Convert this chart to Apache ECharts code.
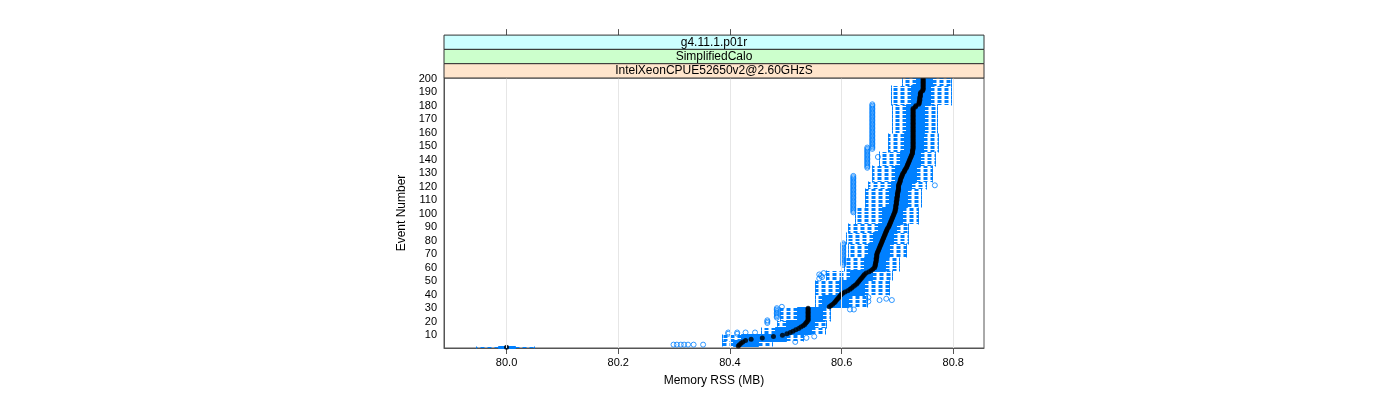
<!DOCTYPE html>
<html>
<head>
<meta charset="utf-8">
<script src="https://cdn.jsdelivr.net/npm/echarts@6.0.0/dist/echarts.min.js"></script>
<style>
  html, body { margin: 0; padding: 0; background: #fff; }
  #chart { width: 1400px; height: 400px; }
</style>
</head>
<body>
<div id="chart"></div>
<script>
// strip labels, outermost first
var strips = ["g4.11.1.p01r", "SimplifiedCalo", "IntelXeonCPUE52650v2@2.60GHzS"];
var stripColors = ["#ccffff", "#ccffcc", "#ffe5cc"];
var xTicks = [80.0, 80.2, 80.4, 80.6, 80.8];

// per event (1..200), memory RSS in MB
var whiskerLo = [
  79.945, 80.386, 80.386, 80.386, 80.386, 80.386, 80.386, 80.386, 80.386, 80.386,
  80.455, 80.455, 80.455, 80.455, 80.455, 80.485, 80.485, 80.485, 80.485, 80.485,
  80.490, 80.490, 80.490, 80.490, 80.490, 80.490, 80.490, 80.490, 80.490, 80.490,
  80.553, 80.553, 80.553, 80.553, 80.553, 80.553, 80.553, 80.553, 80.553, 80.553,
  80.553, 80.553, 80.553, 80.553, 80.553, 80.553, 80.553, 80.553, 80.553, 80.553,
  80.572, 80.572, 80.572, 80.572, 80.572, 80.572, 80.572, 80.605, 80.605, 80.605,
  80.605, 80.605, 80.605, 80.605, 80.605, 80.605, 80.605, 80.612, 80.612, 80.612,
  80.612, 80.612, 80.612, 80.612, 80.612, 80.612, 80.612, 80.607, 80.607, 80.607,
  80.607, 80.607, 80.607, 80.607, 80.607, 80.612, 80.612, 80.612, 80.612, 80.612,
  80.612, 80.612, 80.624, 80.624, 80.624, 80.624, 80.624, 80.624, 80.624, 80.624,
  80.624, 80.624, 80.624, 80.624, 80.642, 80.642, 80.642, 80.642, 80.642, 80.642,
  80.642, 80.642, 80.642, 80.642, 80.642, 80.642, 80.642, 80.642, 80.648, 80.648,
  80.648, 80.648, 80.648, 80.655, 80.655, 80.655, 80.655, 80.655, 80.655, 80.655,
  80.655, 80.655, 80.655, 80.655, 80.655, 80.667, 80.667, 80.667, 80.667, 80.667,
  80.667, 80.667, 80.667, 80.667, 80.667, 80.683, 80.683, 80.683, 80.683, 80.683,
  80.683, 80.683, 80.683, 80.683, 80.683, 80.683, 80.683, 80.683, 80.683, 80.690,
  80.690, 80.690, 80.690, 80.690, 80.690, 80.690, 80.690, 80.690, 80.690, 80.690,
  80.690, 80.690, 80.690, 80.690, 80.690, 80.690, 80.690, 80.690, 80.690, 80.690,
  80.688, 80.688, 80.688, 80.688, 80.688, 80.688, 80.688, 80.688, 80.688, 80.688,
  80.688, 80.688, 80.688, 80.688, 80.708, 80.708, 80.708, 80.708, 80.708, 80.708
];
var boxLo = [
  79.984, 80.405, 80.405, 80.405, 80.405, 80.420, 80.420, 80.420, 80.420, 80.420,
  80.480, 80.480, 80.480, 80.480, 80.480, 80.500, 80.500, 80.500, 80.500, 80.500,
  80.520, 80.520, 80.520, 80.520, 80.520, 80.520, 80.520, 80.520, 80.520, 80.520,
  80.565, 80.565, 80.565, 80.565, 80.565, 80.565, 80.565, 80.565, 80.565, 80.595,
  80.595, 80.595, 80.595, 80.595, 80.595, 80.595, 80.595, 80.595, 80.595, 80.595,
  80.615, 80.615, 80.615, 80.615, 80.615, 80.615, 80.615, 80.640, 80.640, 80.640,
  80.640, 80.640, 80.640, 80.640, 80.640, 80.640, 80.640, 80.648, 80.648, 80.648,
  80.648, 80.648, 80.648, 80.648, 80.648, 80.648, 80.648, 80.657, 80.657, 80.657,
  80.657, 80.657, 80.657, 80.657, 80.657, 80.665, 80.665, 80.665, 80.665, 80.665,
  80.665, 80.665, 80.672, 80.672, 80.672, 80.672, 80.672, 80.672, 80.672, 80.672,
  80.672, 80.672, 80.672, 80.672, 80.684, 80.684, 80.684, 80.684, 80.684, 80.684,
  80.684, 80.684, 80.684, 80.684, 80.684, 80.684, 80.684, 80.684, 80.688, 80.688,
  80.688, 80.688, 80.688, 80.695, 80.695, 80.695, 80.695, 80.695, 80.695, 80.695,
  80.695, 80.695, 80.695, 80.695, 80.695, 80.705, 80.705, 80.705, 80.705, 80.705,
  80.705, 80.705, 80.705, 80.705, 80.705, 80.712, 80.712, 80.712, 80.712, 80.712,
  80.712, 80.712, 80.712, 80.712, 80.712, 80.712, 80.712, 80.712, 80.712, 80.715,
  80.715, 80.715, 80.715, 80.715, 80.715, 80.715, 80.715, 80.715, 80.715, 80.715,
  80.715, 80.715, 80.715, 80.715, 80.715, 80.715, 80.715, 80.715, 80.715, 80.715,
  80.725, 80.725, 80.725, 80.725, 80.725, 80.725, 80.725, 80.725, 80.725, 80.725,
  80.725, 80.725, 80.725, 80.725, 80.733, 80.733, 80.733, 80.733, 80.733, 80.733
];
var medians = [
  80.000, 80.415, 80.417, 80.420, 80.423, 80.428, 80.438, 80.458, 80.478, 80.494,
  80.502, 80.508, 80.513, 80.518, 80.523, 80.527, 80.531, 80.534, 80.536, 80.538,
  80.540, 80.540, 80.540, 80.540, 80.540, 80.540, 80.540, 80.540, 80.540, 80.540,
  80.578, 80.581, 80.584, 80.587, 80.589, 80.591, 80.593, 80.595, 80.597, 80.599,
  80.602, 80.606, 80.611, 80.615, 80.618, 80.621, 80.624, 80.627, 80.629, 80.631,
  80.633, 80.635, 80.637, 80.639, 80.641, 80.644, 80.649, 80.653, 80.656, 80.659,
  80.660, 80.660, 80.661, 80.661, 80.662, 80.662, 80.662, 80.663, 80.663, 80.663,
  80.664, 80.665, 80.666, 80.667, 80.668, 80.669, 80.670, 80.671, 80.672, 80.673,
  80.674, 80.675, 80.676, 80.677, 80.678, 80.679, 80.680, 80.681, 80.682, 80.684,
  80.685, 80.686, 80.687, 80.688, 80.689, 80.690, 80.691, 80.692, 80.693, 80.694,
  80.695, 80.696, 80.696, 80.697, 80.697, 80.697, 80.698, 80.698, 80.698, 80.699,
  80.699, 80.699, 80.700, 80.700, 80.700, 80.701, 80.701, 80.702, 80.702, 80.702,
  80.702, 80.703, 80.704, 80.705, 80.705, 80.706, 80.707, 80.708, 80.709, 80.710,
  80.712, 80.713, 80.714, 80.716, 80.717, 80.718, 80.719, 80.720, 80.721, 80.722,
  80.723, 80.724, 80.725, 80.726, 80.727, 80.727, 80.727, 80.728, 80.728, 80.728,
  80.728, 80.728, 80.728, 80.728, 80.728, 80.728, 80.728, 80.728, 80.728, 80.728,
  80.728, 80.728, 80.728, 80.728, 80.728, 80.728, 80.728, 80.728, 80.728, 80.728,
  80.728, 80.728, 80.728, 80.728, 80.728, 80.728, 80.728, 80.728, 80.732, 80.733,
  80.738, 80.739, 80.739, 80.740, 80.740, 80.740, 80.741, 80.741, 80.741, 80.742,
  80.745, 80.746, 80.746, 80.746, 80.746, 80.746, 80.746, 80.746, 80.746, 80.746
];
var boxHi = [
  80.016, 80.450, 80.450, 80.450, 80.450, 80.500, 80.500, 80.500, 80.500, 80.500,
  80.545, 80.545, 80.545, 80.545, 80.545, 80.550, 80.550, 80.550, 80.550, 80.550,
  80.565, 80.565, 80.565, 80.565, 80.565, 80.565, 80.565, 80.565, 80.565, 80.565,
  80.612, 80.612, 80.612, 80.612, 80.612, 80.612, 80.612, 80.612, 80.612, 80.640,
  80.640, 80.640, 80.640, 80.640, 80.640, 80.640, 80.640, 80.640, 80.640, 80.640,
  80.655, 80.655, 80.655, 80.655, 80.655, 80.655, 80.655, 80.677, 80.677, 80.677,
  80.677, 80.677, 80.677, 80.677, 80.677, 80.677, 80.677, 80.685, 80.685, 80.685,
  80.685, 80.685, 80.685, 80.685, 80.685, 80.685, 80.685, 80.692, 80.692, 80.692,
  80.692, 80.692, 80.692, 80.692, 80.692, 80.697, 80.697, 80.697, 80.697, 80.697,
  80.697, 80.697, 80.708, 80.708, 80.708, 80.708, 80.708, 80.708, 80.708, 80.708,
  80.708, 80.708, 80.708, 80.708, 80.718, 80.718, 80.718, 80.718, 80.718, 80.718,
  80.718, 80.718, 80.718, 80.718, 80.718, 80.718, 80.718, 80.718, 80.725, 80.725,
  80.725, 80.725, 80.725, 80.733, 80.733, 80.733, 80.733, 80.733, 80.733, 80.733,
  80.733, 80.733, 80.733, 80.733, 80.733, 80.740, 80.740, 80.740, 80.740, 80.740,
  80.740, 80.740, 80.740, 80.740, 80.740, 80.745, 80.745, 80.745, 80.745, 80.745,
  80.745, 80.745, 80.745, 80.745, 80.745, 80.745, 80.745, 80.745, 80.745, 80.748,
  80.748, 80.748, 80.748, 80.748, 80.748, 80.748, 80.748, 80.748, 80.748, 80.748,
  80.748, 80.748, 80.748, 80.748, 80.748, 80.748, 80.748, 80.748, 80.748, 80.748,
  80.758, 80.758, 80.758, 80.758, 80.758, 80.758, 80.758, 80.758, 80.758, 80.758,
  80.758, 80.758, 80.758, 80.758, 80.762, 80.762, 80.762, 80.762, 80.762, 80.762
];
var whiskerHi = [
  80.050, 80.475, 80.475, 80.475, 80.475, 80.530, 80.530, 80.530, 80.530, 80.530,
  80.570, 80.570, 80.570, 80.570, 80.570, 80.572, 80.572, 80.572, 80.572, 80.572,
  80.580, 80.580, 80.580, 80.580, 80.580, 80.580, 80.580, 80.580, 80.580, 80.580,
  80.645, 80.645, 80.645, 80.645, 80.645, 80.645, 80.645, 80.645, 80.645, 80.685,
  80.685, 80.685, 80.685, 80.685, 80.685, 80.685, 80.685, 80.685, 80.685, 80.685,
  80.690, 80.690, 80.690, 80.690, 80.690, 80.690, 80.690, 80.703, 80.703, 80.703,
  80.703, 80.703, 80.703, 80.703, 80.703, 80.703, 80.703, 80.715, 80.715, 80.715,
  80.715, 80.715, 80.715, 80.715, 80.715, 80.715, 80.715, 80.719, 80.719, 80.719,
  80.719, 80.719, 80.719, 80.719, 80.719, 80.719, 80.719, 80.719, 80.719, 80.719,
  80.719, 80.719, 80.737, 80.737, 80.737, 80.737, 80.737, 80.737, 80.737, 80.737,
  80.737, 80.737, 80.737, 80.737, 80.742, 80.742, 80.742, 80.742, 80.742, 80.742,
  80.742, 80.742, 80.742, 80.742, 80.742, 80.742, 80.742, 80.742, 80.751, 80.751,
  80.751, 80.751, 80.751, 80.762, 80.762, 80.762, 80.762, 80.762, 80.762, 80.762,
  80.762, 80.762, 80.762, 80.762, 80.762, 80.767, 80.767, 80.767, 80.767, 80.767,
  80.767, 80.767, 80.767, 80.767, 80.767, 80.773, 80.773, 80.773, 80.773, 80.773,
  80.773, 80.773, 80.773, 80.773, 80.773, 80.773, 80.773, 80.773, 80.773, 80.771,
  80.771, 80.771, 80.771, 80.771, 80.771, 80.771, 80.771, 80.771, 80.771, 80.771,
  80.771, 80.771, 80.771, 80.771, 80.771, 80.771, 80.771, 80.771, 80.771, 80.771,
  80.796, 80.796, 80.796, 80.796, 80.796, 80.796, 80.796, 80.796, 80.796, 80.796,
  80.796, 80.796, 80.796, 80.796, 80.796, 80.796, 80.796, 80.796, 80.796, 80.796
];
// outliers: [memory MB, event number]
var outliers = [
  [80.299, 3], [80.305, 3], [80.312, 3], [80.318, 3], [80.325, 3], [80.335, 3], [80.352, 3],
  [80.517, 5], [80.537, 8], [80.551, 9],
  [80.397, 11], [80.413, 11], [80.397, 12], [80.413, 12], [80.428, 12], [80.445, 12],
  [80.467, 19], [80.467, 20], [80.467, 21],
  [80.484, 23], [80.484, 24], [80.484, 25], [80.484, 26], [80.484, 27], [80.484, 28],
  [80.484, 29], [80.484, 30], [80.493, 31], [80.615, 29], [80.622, 29],
  [80.648, 35], [80.668, 36], [80.690, 36], [80.680, 37], [80.648, 38],
  [80.560, 52], [80.565, 53], [80.563, 54], [80.560, 55], [80.568, 56],
  [80.603, 62], [80.603, 63], [80.603, 64], [80.603, 65], [80.603, 66], [80.603, 67],
  [80.603, 68], [80.603, 69], [80.603, 70], [80.603, 71], [80.603, 72], [80.603, 73],
  [80.603, 74], [80.603, 75], [80.603, 76], [80.603, 77], [80.603, 78],
  [80.621, 101], [80.621, 102], [80.621, 103], [80.621, 104], [80.621, 105], [80.621, 106],
  [80.621, 107], [80.621, 108], [80.621, 109], [80.621, 110], [80.621, 111], [80.621, 112],
  [80.621, 113], [80.621, 114], [80.621, 115], [80.621, 116], [80.621, 117], [80.621, 118],
  [80.621, 119], [80.621, 120], [80.621, 121], [80.621, 122], [80.621, 123], [80.621, 124],
  [80.621, 125], [80.621, 126], [80.621, 127], [80.621, 128],
  [80.767, 121],
  [80.646, 134], [80.646, 135], [80.646, 136], [80.646, 137], [80.646, 138], [80.646, 139],
  [80.646, 140], [80.646, 141], [80.646, 142], [80.646, 143], [80.646, 144], [80.646, 145],
  [80.646, 146], [80.646, 147], [80.646, 148], [80.646, 149], [80.665, 142],
  [80.655, 148], [80.655, 149], [80.655, 150], [80.655, 151], [80.655, 152], [80.655, 153],
  [80.655, 154], [80.655, 155], [80.655, 156], [80.655, 157], [80.655, 158], [80.655, 159],
  [80.655, 160], [80.655, 161], [80.655, 162], [80.655, 163], [80.655, 164], [80.655, 165],
  [80.655, 166], [80.655, 167], [80.655, 168], [80.655, 169], [80.655, 170], [80.655, 171],
  [80.655, 172], [80.655, 173], [80.655, 174], [80.655, 175], [80.655, 176], [80.655, 177],
  [80.655, 178], [80.655, 179], [80.655, 180], [80.655, 181]
];

var events = [];
for (var i = 1; i <= 200; i++) events.push(String(i));

var boxData = [];
var medianData = [];
for (var j = 0; j < events.length; j++) {
  boxData.push([j, whiskerLo[j], boxLo[j], medians[j], boxHi[j], whiskerHi[j]]);
  medianData.push([medians[j], j]);
}
var outlierData = outliers.map(function (o) { return [o[0], o[1] - 1]; });

var BLUE = "#0080ff";
var FONT = "Liberation Sans";
var gridLeft = 444, gridTop = 78, gridW = 540, gridH = 270;
var stripH = 14.3;

// one horizontal box-and-whisker per event, snapped to device pixels
function renderBox(params, api) {
  var cat = api.value(0);
  var p = api.coord([api.value(1), cat]);
  var y = Math.floor(p[1]) + 0.5;
  var xLo = Math.round(p[0]) + 0.5;
  var xQ1 = Math.round(api.coord([api.value(2), cat])[0]) + 0.5;
  var xQ3 = Math.round(api.coord([api.value(4), cat])[0]) + 0.5;
  var xHi = Math.round(api.coord([api.value(5), cat])[0]) + 0.5;
  var dashed = { stroke: BLUE, lineWidth: 1, lineDash: [4, 3], fill: null };
  return {
    type: "group",
    children: [
      { type: "line", shape: { x1: xQ1, y1: y, x2: xLo, y2: y }, style: dashed },
      { type: "line", shape: { x1: xQ3, y1: y, x2: xHi, y2: y }, style: dashed },
      { type: "line", shape: { x1: xLo, y1: y - 1, x2: xLo, y2: y + 1 }, style: { stroke: BLUE, lineWidth: 1 } },
      { type: "line", shape: { x1: xHi, y1: y - 1, x2: xHi, y2: y + 1 }, style: { stroke: BLUE, lineWidth: 1 } },
      {
        type: "rect",
        shape: { x: xQ1, y: y - 1, width: xQ3 - xQ1, height: 2 },
        style: { stroke: BLUE, fill: BLUE, lineWidth: 1 }
      }
    ]
  };
}

var stripGraphics = [];
strips.forEach(function (s, idx) {
  var top = gridTop - stripH * (strips.length - idx);
  stripGraphics.push({
    type: "rect",
    shape: { x: gridLeft, y: top, width: gridW, height: stripH },
    style: { fill: stripColors[idx], stroke: "#333", lineWidth: 1 },
    z: 10
  });
  stripGraphics.push({
    type: "text",
    x: gridLeft + gridW / 2,
    y: top + stripH / 2,
    style: { text: s, font: "12px " + FONT, fill: "#000", align: "center", verticalAlign: "middle" },
    z: 11
  });
});

var myChart = echarts.init(document.getElementById("chart"));
var option = {
  animation: false,
  backgroundColor: "#fff",
  grid: {
    left: gridLeft, top: gridTop, width: gridW, height: gridH,
    show: true, borderColor: "#555", borderWidth: 1, backgroundColor: "transparent"
  },
  xAxis: [
    {
      type: "value",
      min: 79.888,
      max: 80.855,
      name: "Memory RSS (MB)",
      nameLocation: "middle",
      nameGap: 27,
      nameTextStyle: { fontFamily: FONT, fontSize: 12, color: "#000" },
      axisLine: { show: true, lineStyle: { color: "#555" } },
      axisTick: { show: true, inside: false, length: 6, customValues: xTicks, lineStyle: { color: "#555" } },
      axisLabel: {
        customValues: xTicks, margin: 9, fontFamily: FONT, fontSize: 11, color: "#000",
        formatter: function (v) { return v.toFixed(1); }
      },
      splitLine: { show: false }
    },
    {
      type: "value",
      position: "top",
      offset: stripH * 3,
      min: 79.888,
      max: 80.855,
      axisLine: { show: false },
      axisTick: { show: true, length: 6, customValues: xTicks, lineStyle: { color: "#555" } },
      axisLabel: { show: false },
      splitLine: { show: false }
    }
  ],
  yAxis: {
    type: "category",
    data: events,
    boundaryGap: true,
    name: "Event Number",
    nameLocation: "middle",
    nameGap: 36,
    nameTextStyle: { fontFamily: FONT, fontSize: 12, color: "#000" },
    axisLine: { show: true, lineStyle: { color: "#555" } },
    axisTick: { show: false },
    axisLabel: {
      margin: 7, fontFamily: FONT, fontSize: 11, color: "#000",
      interval: function (index) { return (index + 1) % 10 === 0; }
    },
    splitLine: { show: false }
  },
  graphic: stripGraphics,
  series: [
    {
      type: "scatter",
      data: [],
      z: 1,
      silent: true,
      markLine: {
        silent: true,
        symbol: "none",
        label: { show: false },
        lineStyle: { color: "#e6e6e6", type: "solid", width: 1 },
        data: xTicks.map(function (t) { return { xAxis: t }; })
      }
    },
    {
      type: "custom",
      renderItem: renderBox,
      data: boxData,
      encode: { x: [1, 2, 3, 4, 5], y: 0 },
      z: 2
    },
    {
      type: "scatter",
      data: outlierData,
      symbol: "circle",
      symbolSize: 5,
      itemStyle: { color: "rgba(0,0,0,0)", borderColor: BLUE, borderWidth: 1 },
      z: 3
    },
    {
      type: "scatter",
      data: medianData,
      symbol: "circle",
      symbolSize: 5,
      itemStyle: { color: "#000" },
      z: 4
    }
  ]
};
myChart.setOption(option);
</script>
</body>
</html>
